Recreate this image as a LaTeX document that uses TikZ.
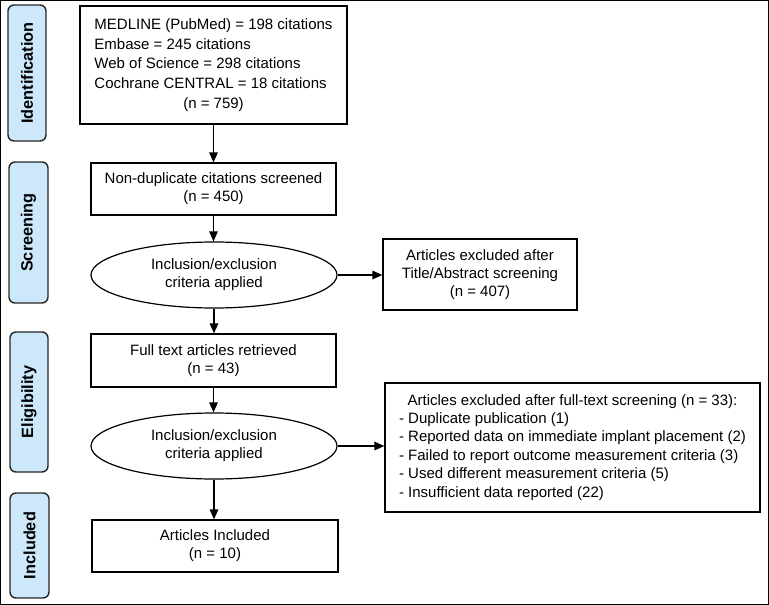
\documentclass[tikz,border=0pt]{standalone}
\usepackage{fontspec}
\setmainfont{Liberation Sans}
\usetikzlibrary{arrows.meta,shapes.geometric}
\definecolor{phasefill}{HTML}{CCE8FA}
\begin{document}
\begin{tikzpicture}[x=1pt, y=-1pt,
  box/.style={draw, line width=1.2pt, align=center, inner sep=0pt,
    font=\fontsize{15}{18}\selectfont},
  choice/.style={box, ellipse},
  phase/.style={draw=black!85, line width=1.4pt, fill=phasefill, rounded corners=6pt,
    rotate=90, inner sep=0pt, font=\fontsize{16.3}{18}\selectfont\bfseries},
  flow/.style={-{Triangle[length=10pt,width=8.5pt]}, line width=1.4pt}]
\useasboundingbox (0,0) rectangle (769,605);
\draw[line width=1pt] (0.5,0.5) rectangle (768.5,604.5);
% phase labels
\node[phase, minimum width=136, minimum height=38] (P_ident) at (27,73) {Identification};
\node[phase, minimum width=141, minimum height=39] (P_screen) at (28.5,232.5) {Screening};
\node[phase, minimum width=140, minimum height=38] (P_elig) at (29,402) {Eligibility};
\node[phase, minimum width=105, minimum height=39] (P_incl) at (29.5,545.5) {Included};
% main column
\node[box, minimum width=267, minimum height=118] (B_ident) at (213.5,65)
  {\fontsize{15}{19.6}\selectfont\begin{tabular}{@{}l@{}}
  MEDLINE (PubMed) = 198 citations\\
  Embase = 245 citations\\
  Web of Science = 298 citations\\
  Cochrane CENTRAL = 18 citations\\
  \multicolumn{1}{@{}c@{}}{(n = 759)}\end{tabular}};
\node[box, minimum width=245, minimum height=52] (B_screen) at (213.5,189)
  {Non-duplicate citations screened\\(n = 450)};
\draw[flow] (B_ident) -- (B_screen);
\node[choice, minimum width=246, minimum height=66] (E_screen) at (214,275)
  {Inclusion/exclusion\\criteria applied};
\draw[flow] (B_screen) -- (B_screen |- E_screen.north);
\node[box, minimum width=245, minimum height=53] (B_elig) at (213.5,360.5)
  {Full text articles retrieved\\(n = 43)};
\draw[flow] (E_screen.south) -- (E_screen.south |- B_elig.north);
\node[choice, minimum width=246, minimum height=66] (E_elig) at (214,446)
  {Inclusion/exclusion\\criteria applied};
\draw[flow] (B_elig.south) -- (B_elig.south |- E_elig.north);
\node[box, minimum width=246, minimum height=52] (B_incl) at (215,546)
  {Articles Included\\(n = 10)};
\draw[flow] (E_elig.south) -- (E_elig.south |- B_incl.north);
% exclusions
\node[box, minimum width=194, minimum height=71] (X_screen) at (480,274.5)
  {Articles excluded after\\Title/Abstract screening\\(n = 407)};
\draw[flow] (E_screen.east) -- (E_screen.east -| X_screen.west);
\node[box, minimum width=375, minimum height=129] (X_elig) at (572.5,447.5)
  {\fontsize{15}{18.4}\selectfont\begin{tabular}{@{}l@{}}
  \multicolumn{1}{@{}c@{}}{Articles excluded after full-text screening (n = 33):}\\
  - Duplicate publication (1)\\
  - Reported data on immediate implant placement (2)\\
  - Failed to report outcome measurement criteria (3)\\
  - Used different measurement criteria (5)\\
  - Insufficient data reported (22)\end{tabular}};
\draw[flow] (E_elig.east) -- (E_elig.east -| X_elig.west);
\end{tikzpicture}
\end{document}
